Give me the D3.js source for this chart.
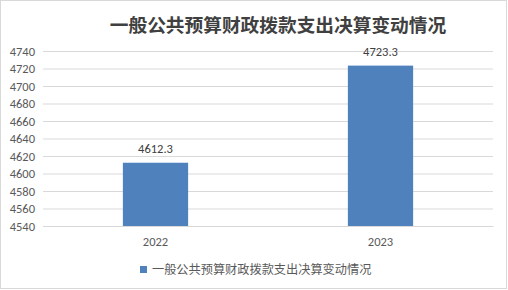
<!DOCTYPE html>
<html>
<head>
<meta charset="utf-8">
<script src="https://cdn.jsdelivr.net/npm/d3@7"></script>
<style>
  body { margin: 0; background: #fff; }
  text { font-family: "Noto Sans CJK SC", "Noto Sans", sans-serif; }
</style>
</head>
<body>
<div class="chart"></div>
<script>
const years = ["2022", "2023"];
const values = [4612.3, 4723.3];
const yTicks = [4540, 4560, 4580, 4600, 4620, 4640, 4660, 4680, 4700, 4720, 4740];
const title = "一般公共预算财政拨款支出决算变动情况";

const W = 508, H = 290;
const margin = { left: 43, right: 15, top: 51, bottom: 64 };
const width = W - margin.left - margin.right,
    height = H - margin.top - margin.bottom;

const svg = d3.select(".chart").append("svg")
    .attr("width", W)
    .attr("height", H);

// outer border
svg.append("rect")
    .attr("x", 0.5).attr("y", 0.5)
    .attr("width", W - 2).attr("height", H - 2)
    .attr("fill", "#fff")
    .attr("stroke", "#d9d9d9");

svg.append("text")
    .attr("x", 278)
    .attr("y", 32)
    .attr("text-anchor", "middle")
    .attr("font-size", 18.7)
    .attr("font-weight", 700)
    .attr("fill", "#404040")
    .text(title);

const g = svg.append("g")
    .attr("transform", `translate(${margin.left},${margin.top})`);

const x = d3.scaleBand()
    .domain(years)
    .range([0, width])
    .paddingInner(0.71)
    .paddingOuter(0.355);

const y = d3.scaleLinear()
    .domain([4540, 4740])
    .range([height, 0]);

const numFont = "Calibri, Carlito, 'Liberation Sans', sans-serif";

g.append("g")
    .call(d3.axisLeft(y).tickValues(yTicks).tickFormat(d3.format("d")).tickSize(0).tickPadding(8))
    .call(a => a.select(".domain").remove())
    .call(a => a.selectAll(".tick line").clone()
        .attr("x2", width)
        .attr("stroke", "#d9d9d9"))
    .call(a => a.selectAll("text")
        .attr("fill", "#595959")
        .attr("font-size", 12.5)
        .style("font-family", numFont));

g.append("g")
    .attr("transform", `translate(0,${height})`)
    .call(d3.axisBottom(x).tickSize(0).tickPadding(11))
    .call(a => a.select(".domain").attr("stroke", "#d9d9d9"))
    .call(a => a.selectAll("text")
        .attr("fill", "#595959")
        .attr("font-size", 12.5)
        .style("font-family", numFont));

g.selectAll(".bar")
    .data(values)
    .enter()
    .append("rect")
    .attr("x", (d, i) => x(years[i]))
    .attr("y", d => y(d))
    .attr("width", x.bandwidth())
    .attr("height", d => height - y(d))
    .attr("fill", "#4f81bd");

g.selectAll(".lbl")
    .data(values)
    .enter()
    .append("text")
    .attr("x", (d, i) => x(years[i]) + x.bandwidth() / 2)
    .attr("y", d => y(d) - 10)
    .attr("text-anchor", "middle")
    .attr("font-size", 12.5)
    .attr("fill", "#404040")
    .style("font-family", numFont)
    .text(d => d);

// legend
svg.append("rect")
    .attr("x", 140).attr("y", 266)
    .attr("width", 7).attr("height", 7)
    .attr("fill", "#4f81bd");

svg.append("text")
    .attr("x", 152)
    .attr("y", 274)
    .attr("font-size", 12.2)
    .attr("fill", "#595959")
    .text(title);
</script>
</body>
</html>
